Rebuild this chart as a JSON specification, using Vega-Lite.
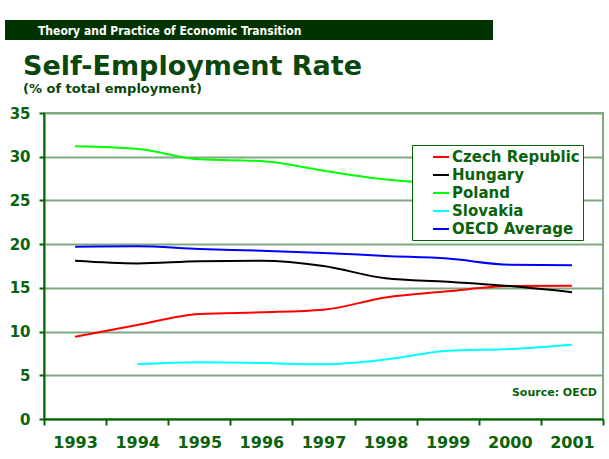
{
  "$schema": "https://vega.github.io/schema/vega-lite/v6.json",
  "background": "white",
  "padding": {"left": 5, "top": 20, "right": 0, "bottom": 0},
  "spacing": 12,
  "resolve": {"legend": {"color": "independent"}},
  "config": {
    "font": "DejaVu Sans",
    "view": {"stroke": null}
  },
  "vconcat": [
    {
      "width": 488,
      "height": 20,
      "data": {"values": [{"pos": 0, "label": "Theory and Practice of Economic Transition"}]},
      "layer": [
        {
          "mark": {"type": "rect", "color": "#003300"},
          "encoding": {}
        },
        {
          "mark": {"type": "text", "align": "left", "baseline": "middle", "dx": 33, "dy": 1, "color": "white", "font": "DejaVu Sans Condensed", "fontSize": 12, "fontWeight": "bold"},
          "encoding": {
            "x": {"field": "pos", "type": "quantitative", "scale": {"domain": [0, 1]}, "axis": null},
            "text": {"field": "label"}
          }
        }
      ]
    },
    {
      "spacing": 2,
      "resolve": {"legend": {"color": "independent"}},
      "hconcat": [
        {
          "width": 1,
          "height": 306,
          "data": {"values": [{"a": 1}]},
          "mark": {"type": "rect", "opacity": 0},
          "encoding": {}
        },
        {
          "width": 559,
          "height": 306,
          "view": {"stroke": "#7faa7f", "strokeWidth": 2},
          "title": {
            "text": "Self-Employment Rate",
            "subtitle": "(% of total employment)",
            "anchor": "start",
            "frame": "group",
            "dx": -21,
            "offset": 9,
            "color": "#0b470b",
            "font": "DejaVu Sans",
            "fontSize": 27,
            "fontWeight": "bold",
            "subtitleColor": "#0b470b",
            "subtitleFont": "DejaVu Sans",
            "subtitleFontSize": 13,
            "subtitleFontWeight": "bold",
            "subtitlePadding": 2
          },
          "layer": [
            {
              "data": {
                "values": [
                  {"year": "1993", "country": "Czech Republic", "value": 9.4},
                  {"year": "1994", "country": "Czech Republic", "value": 10.75},
                  {"year": "1995", "country": "Czech Republic", "value": 12.0},
                  {"year": "1996", "country": "Czech Republic", "value": 12.2},
                  {"year": "1997", "country": "Czech Republic", "value": 12.5},
                  {"year": "1998", "country": "Czech Republic", "value": 13.9},
                  {"year": "1999", "country": "Czech Republic", "value": 14.6},
                  {"year": "2000", "country": "Czech Republic", "value": 15.2},
                  {"year": "2001", "country": "Czech Republic", "value": 15.25},
                  {"year": "1993", "country": "Hungary", "value": 18.1},
                  {"year": "1994", "country": "Hungary", "value": 17.8},
                  {"year": "1995", "country": "Hungary", "value": 18.05},
                  {"year": "1996", "country": "Hungary", "value": 18.1},
                  {"year": "1997", "country": "Hungary", "value": 17.5},
                  {"year": "1998", "country": "Hungary", "value": 16.1},
                  {"year": "1999", "country": "Hungary", "value": 15.7},
                  {"year": "2000", "country": "Hungary", "value": 15.2},
                  {"year": "2001", "country": "Hungary", "value": 14.5},
                  {"year": "1993", "country": "Poland", "value": 31.2},
                  {"year": "1994", "country": "Poland", "value": 30.9},
                  {"year": "1995", "country": "Poland", "value": 29.7},
                  {"year": "1996", "country": "Poland", "value": 29.5},
                  {"year": "1997", "country": "Poland", "value": 28.4},
                  {"year": "1998", "country": "Poland", "value": 27.4},
                  {"year": "1999", "country": "Poland", "value": 27.0},
                  {"year": "2000", "country": "Poland", "value": 27.4},
                  {"year": "2001", "country": "Poland", "value": 28.1},
                  {"year": "1994", "country": "Slovakia", "value": 6.25},
                  {"year": "1995", "country": "Slovakia", "value": 6.48},
                  {"year": "1996", "country": "Slovakia", "value": 6.4},
                  {"year": "1997", "country": "Slovakia", "value": 6.25},
                  {"year": "1998", "country": "Slovakia", "value": 6.8},
                  {"year": "1999", "country": "Slovakia", "value": 7.8},
                  {"year": "2000", "country": "Slovakia", "value": 8.0},
                  {"year": "2001", "country": "Slovakia", "value": 8.5},
                  {"year": "1993", "country": "OECD Average", "value": 19.7},
                  {"year": "1994", "country": "OECD Average", "value": 19.75},
                  {"year": "1995", "country": "OECD Average", "value": 19.45},
                  {"year": "1996", "country": "OECD Average", "value": 19.25},
                  {"year": "1997", "country": "OECD Average", "value": 19.0},
                  {"year": "1998", "country": "OECD Average", "value": 18.65},
                  {"year": "1999", "country": "OECD Average", "value": 18.35},
                  {"year": "2000", "country": "OECD Average", "value": 17.65},
                  {"year": "2001", "country": "OECD Average", "value": 17.6}
                ]
              },
              "mark": {"type": "line", "interpolate": "monotone", "strokeWidth": 2},
              "encoding": {
                "x": {
                  "field": "year",
                  "type": "ordinal",
                  "bandPosition": 0.5,
                  "scale": {"type": "band", "paddingInner": 0, "paddingOuter": 0},
                  "axis": {
                    "title": null,
                    "labelAngle": 0,
                    "tickBand": "extent",
                    "domainColor": "#006600",
                    "domainWidth": 2,
                    "tickColor": "#006600",
                    "tickWidth": 2,
                    "tickSize": 6,
                    "labelColor": "#0a620a",
                    "labelFont": "DejaVu Sans",
                    "labelFontSize": 16,
                    "labelFontWeight": "bold",
                    "labelPadding": 9,
                    "grid": false
                  }
                },
                "y": {
                  "field": "value",
                  "type": "quantitative",
                  "scale": {"domain": [0, 35], "nice": false},
                  "axis": {
                    "title": null,
                    "values": [0, 5, 10, 15, 20, 25, 30, 35],
                    "grid": true,
                    "gridColor": "#7faa7f",
                    "gridWidth": 2,
                    "gridOpacity": 1,
                    "domainColor": "#006600",
                    "domainWidth": 2,
                    "tickColor": "#006600",
                    "tickWidth": 2,
                    "tickSize": 5,
                    "labelColor": "#0a620a",
                    "labelFont": "DejaVu Sans",
                    "labelFontSize": 15,
                    "labelFontWeight": "bold",
                    "labelPadding": 9
                  }
                },
                "color": {
                  "field": "country",
                  "type": "nominal",
                  "scale": {
                    "domain": ["Czech Republic", "Hungary", "Poland", "Slovakia", "OECD Average"],
                    "range": ["#ff0000", "#000000", "#00ff00", "#00ffff", "#0000ff"]
                  },
                  "legend": {
                    "title": null,
                    "orient": "none",
                    "legendX": 368,
                    "legendY": 32,
                    "symbolType": "stroke",
                    "symbolSize": 256,
                    "symbolStrokeWidth": 2,
                    "symbolOffset": 17,
                    "labelColor": "#0a620a",
                    "labelFont": "DejaVu Sans",
                    "labelFontSize": 15,
                    "labelFontWeight": "bold",
                    "labelOffset": 2,
                    "rowPadding": 1,
                    "padding": 3,
                    "strokeColor": "#006600",
                    "fillColor": "white"
                  }
                }
              }
            },
            {
              "data": {"values": [{"year": "2001", "value": 2.6, "label": "Source: OECD"}]},
              "mark": {"type": "text", "align": "right", "baseline": "alphabetic", "dx": 25, "font": "DejaVu Sans", "fontSize": 11, "fontWeight": "bold", "color": "#0a620a"},
              "encoding": {
                "x": {"field": "year", "type": "ordinal", "bandPosition": 0.5},
                "y": {"field": "value", "type": "quantitative"},
                "text": {"field": "label"}
              }
            }
          ]
        }
      ]
    }
  ]
}
